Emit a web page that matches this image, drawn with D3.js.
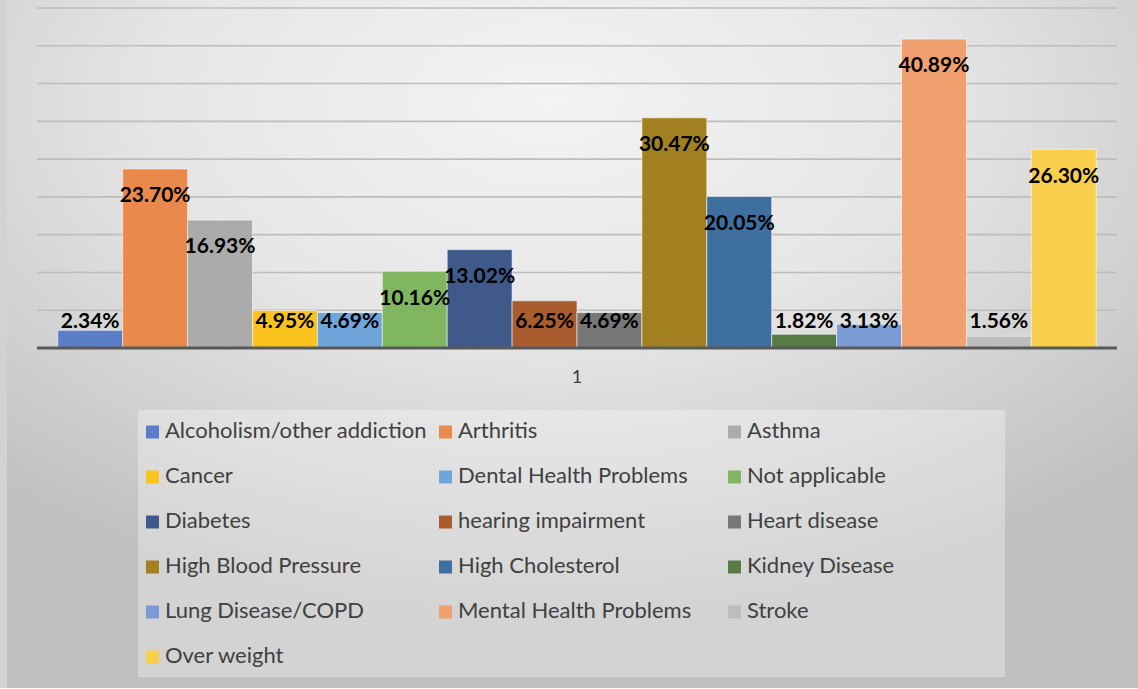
<!DOCTYPE html>
<html>
<head>
<meta charset="utf-8">
<script src="https://cdn.jsdelivr.net/npm/d3@7"></script>
<style>
  body { margin: 0; padding: 0; background: #ffffff; }
  .chart text { font-family: Lato, "Open Sans", sans-serif; }
</style>
</head>
<body>
<div class="chart"></div>
<script>
// categories and values (percent)
const categories = [
  "Alcoholism/other addiction", "Arthritis", "Asthma",
  "Cancer", "Dental Health Problems", "Not applicable",
  "Diabetes", "hearing impairment", "Heart disease",
  "High Blood Pressure", "High Cholesterol", "Kidney Disease",
  "Lung Disease/COPD", "Mental Health Problems", "Stroke",
  "Over weight"
];
const values = [2.34, 23.70, 16.93, 4.95, 4.69, 10.16, 13.02, 6.25, 4.69,
  30.47, 20.05, 1.82, 3.13, 40.89, 1.56, 26.30];
const colors = [
  "#5a7fc8", "#e98a4c", "#ababab", "#f9c21c", "#6fa5da", "#80b660",
  "#3e598a", "#a95c2d", "#777777", "#a28020", "#3e6f9f", "#587a44",
  "#7a9bd6", "#efa06e", "#bdbdbd", "#f8cf4a"
];
const xLabels = ["1"];
const yTicks = [0, 5, 10, 15, 20, 25, 30, 35, 40, 45];

var W = 1138, H = 689;
var margin = { top: 8, right: 21, bottom: 341, left: 37 };
const width = W - margin.left - margin.right;
const height = H - margin.top - margin.bottom;

var root = d3.select(".chart").append("svg")
  .attr("width", W)
  .attr("height", H);

// ---------------------------//
//       BACKGROUND           //
// ---------------------------//
var defs = root.append("defs");
var grad = defs.append("radialGradient")
  .attr("id", "bg")
  .attr("cx", "48%").attr("cy", "15%")
  .attr("r", "75%");
grad.append("stop").attr("offset", "0%").attr("stop-color", "#f3f3f3");
grad.append("stop").attr("offset", "45%").attr("stop-color", "#e6e6e6");
grad.append("stop").attr("offset", "100%").attr("stop-color", "#bfbfbf");

root.append("rect").attr("x", 0).attr("y", 0).attr("width", W).attr("height", H - 1)
  .attr("fill", "url(#bg)");
root.append("rect").attr("x", 0).attr("y", 0).attr("width", 7).attr("height", H - 1)
  .attr("fill", "#d2d2d2");

var svg = root.append("g")
  .attr("transform", "translate(" + margin.left + "," + margin.top + ")");

// ---------------------------//
//       AXIS  AND SCALE      //
// ---------------------------//
var x0 = d3.scaleBand().domain(xLabels).range([0, width]).paddingInner(0).paddingOuter(0.02);
var x1 = d3.scaleBand().domain(categories).range([0, x0.bandwidth()]).padding(0);
var y = d3.scaleLinear().domain([0, 45]).range([height, 0]);

// gridlines
svg.append("g")
  .selectAll("line")
  .data(yTicks.slice(1))
  .enter()
  .append("line")
  .attr("x1", 0).attr("x2", width)
  .attr("y1", (d) => y(d)).attr("y2", (d) => y(d))
  .attr("stroke", "#bdbdbd")
  .attr("stroke-width", 1.6);

// ---------------------------//
//       BARS                 //
// ---------------------------//
var g = svg.append("g").attr("transform", "translate(" + x0("1") + ",0)");

g.selectAll("rect")
  .data(values)
  .enter()
  .append("rect")
  .attr("x", (d, i) => x1(categories[i]))
  .attr("y", (d) => y(d))
  .attr("width", x1.bandwidth())
  .attr("height", (d) => height - y(d))
  .attr("fill", (d, i) => colors[i])
  .attr("stroke", "rgba(255,255,255,0.55)")
  .attr("stroke-width", 1);

// x axis line
svg.append("line")
  .attr("x1", 0).attr("x2", width)
  .attr("y1", height).attr("y2", height)
  .attr("stroke", "#595959")
  .attr("stroke-width", 3);

svg.append("text")
  .attr("x", x0("1") + x0.bandwidth() / 2)
  .attr("y", height + 30)
  .attr("text-anchor", "middle")
  .attr("dominant-baseline", "middle")
  .style("font-size", "18px")
  .style("fill", "#404040")
  .text(xLabels[0]);

// data labels (inside end, pushed up when the bar is short)
g.selectAll(".lbl")
  .data(values)
  .enter()
  .append("text")
  .attr("class", "lbl")
  .attr("x", (d, i) => x1(categories[i]) + x1.bandwidth() / 2)
  .attr("y", (d) => Math.min(y(d) + 28, height - 25))
  .attr("text-anchor", "middle")
  .attr("dominant-baseline", "middle")
  .style("font-size", "21px")
  .style("font-weight", "bold")
  .style("fill", "#000000")
  .text((d) => d.toFixed(2) + "%");

// ---------------------------//
//       LEGEND               //
// ---------------------------//
root.append("rect")
  .attr("x", 138).attr("y", 410)
  .attr("width", 867).attr("height", 267)
  .attr("fill", "rgba(255,255,255,0.32)");

var colX = [146, 439, 728];
var legend = root.append("g")
  .selectAll("g")
  .data(categories)
  .enter()
  .append("g")
  .attr("transform", (d, i) =>
    "translate(" + colX[i % 3] + "," + (432 + Math.floor(i / 3) * 45) + ")");

legend.append("rect")
  .attr("x", 0).attr("y", -6.5)
  .attr("width", 13).attr("height", 13)
  .attr("fill", (d, i) => colors[i]);

legend.append("text")
  .attr("x", 19)
  .attr("y", 0)
  .attr("dominant-baseline", "middle")
  .style("font-size", "22px")
  .style("fill", "#404040")
  .text((d) => d);
</script>
</body>
</html>
